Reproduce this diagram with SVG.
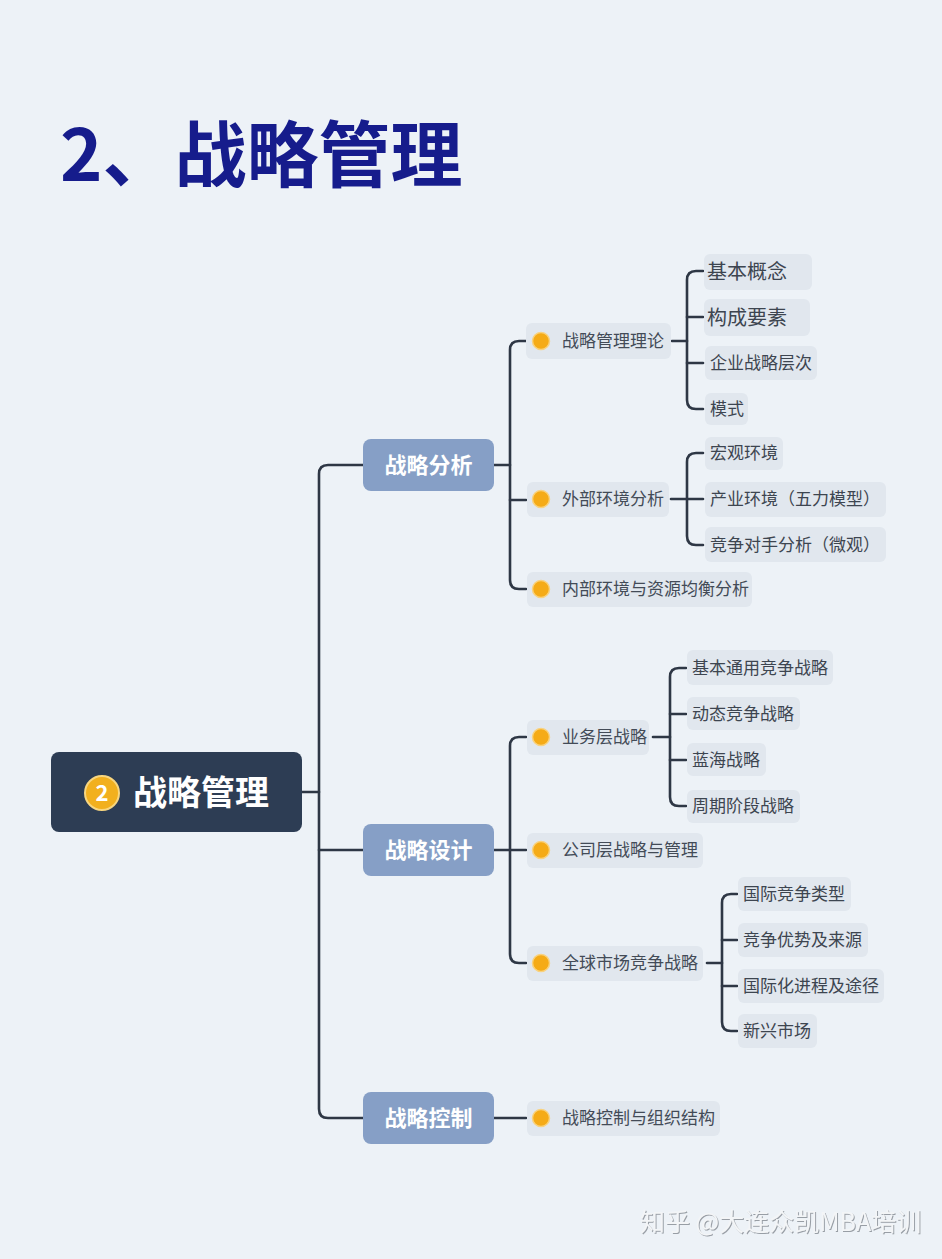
<svg xmlns="http://www.w3.org/2000/svg" width="942" height="1259" viewBox="0 0 942 1259">
<style>
.cjk{font-family:"Noto Sans CJK SC","Noto Sans",sans-serif}
.title{font-size:72px;font-weight:700;fill:#161c8c}
.root{fill:#2d3d54}
.roottxt{font-size:34px;font-weight:700;fill:#ffffff}
.l1{fill:#869fc6}
.l1txt{font-size:22px;font-weight:700;fill:#ffffff}
.pill{fill:#e1e7ee}
.dot{fill:#f5ab17;stroke:#f9d27e;stroke-width:1.5}
.l2txt{font-size:17px;fill:#434b57}
.l3txt{font-size:17px;fill:#3d4550}
.l3big{font-size:20px;fill:#3d4550}
.conn{fill:none;stroke:#2e3745;stroke-width:2.6;stroke-linecap:round;stroke-linejoin:round}
.wm{font-size:25px;fill:#f3f5f7}
</style>
<defs>
<filter id="emb" x="-5%" y="-20%" width="110%" height="140%">
<feDropShadow dx="1" dy="1" stdDeviation="0.6" flood-color="#8f959c" flood-opacity="0.9"/>
</filter>
</defs>
<rect x="0" y="0" width="942" height="1259" fill="#edf2f7"/>
<text class="cjk title" x="60" y="181">2、战略管理</text>

<g id="connectors">
<path class="conn" d="M302,792 H319"/>
<path class="conn" d="M363,465 H328 Q319,465 319,474 V1109 Q319,1118 328,1118 H363"/>
<path class="conn" d="M319,850 H363"/>
<!-- 战略分析 -->
<path class="conn" d="M494,465 H510"/>
<path class="conn" d="M526,341 H519 Q510,341 510,350 V580 Q510,589 519,589 H526"/>
<path class="conn" d="M510,500 H526"/>
<path class="conn" d="M672,341 H687"/>
<path class="conn" d="M703,271 H696 Q687,271 687,280 V400 Q687,409 696,409 H703"/>
<path class="conn" d="M687,317 H703"/>
<path class="conn" d="M687,363 H703"/>
<path class="conn" d="M671,499 H703"/>
<path class="conn" d="M703,453 H696 Q687,453 687,462 V536 Q687,545 696,545 H703"/>
<!-- 战略设计 -->
<path class="conn" d="M494,850 H526"/>
<path class="conn" d="M526,737 H519 Q510,737 510,746 V954 Q510,963 519,963 H526"/>
<path class="conn" d="M653,737 H670"/>
<path class="conn" d="M686,668 H679 Q670,668 670,677 V797 Q670,806 679,806 H686"/>
<path class="conn" d="M670,714 H686"/>
<path class="conn" d="M670,760 H686"/>
<path class="conn" d="M707,963 H722"/>
<path class="conn" d="M737,894 H731 Q722,894 722,903 V1022 Q722,1031 731,1031 H737"/>
<path class="conn" d="M722,940 H737"/>
<path class="conn" d="M722,986 H737"/>
<!-- 战略控制 -->
<path class="conn" d="M494,1118 H526"/>
</g>

<g id="root">
<rect class="root" x="51" y="752" width="251" height="80" rx="8"/>
<circle cx="102" cy="793" r="17" fill="#f2b01e" stroke="#f8d67f" stroke-width="2"/>
<text class="cjk" x="102" y="801" font-size="22" font-weight="700" fill="#ffffff" text-anchor="middle">2</text>
<text class="cjk roottxt" x="133" y="805">战略管理</text>
</g>

<g id="n-fenxi">
<rect class="l1" x="363" y="439" width="131" height="52" rx="8"/>
<text class="cjk l1txt" x="428.5" y="473" text-anchor="middle">战略分析</text>
</g>
<g id="n-sheji">
<rect class="l1" x="363" y="824" width="131" height="52" rx="8"/>
<text class="cjk l1txt" x="428.5" y="858" text-anchor="middle">战略设计</text>
</g>
<g id="n-kongzhi">
<rect class="l1" x="363" y="1092" width="131" height="52" rx="8"/>
<text class="cjk l1txt" x="428.5" y="1126" text-anchor="middle">战略控制</text>
</g>

<!-- level 2 -->
<g id="n-lilun">
<rect class="pill" x="526" y="323" width="145" height="36" rx="6"/>
<circle class="dot" cx="541" cy="341" r="8.5"/>
<text class="cjk l2txt" x="562" y="347">战略管理理论</text>
</g>
<g id="n-waibu">
<rect class="pill" x="527" y="482" width="142" height="35" rx="6"/>
<circle class="dot" cx="541" cy="499" r="8.5"/>
<text class="cjk l2txt" x="562" y="505">外部环境分析</text>
</g>
<g id="n-neibu">
<rect class="pill" x="527" y="572" width="225" height="35" rx="6"/>
<circle class="dot" cx="541" cy="589" r="8.5"/>
<text class="cjk l2txt" x="562" y="595">内部环境与资源均衡分析</text>
</g>
<g id="n-yewu">
<rect class="pill" x="527" y="720" width="122" height="35" rx="6"/>
<circle class="dot" cx="541" cy="737" r="8.5"/>
<text class="cjk l2txt" x="562" y="743">业务层战略</text>
</g>
<g id="n-gongsi">
<rect class="pill" x="527" y="833" width="176" height="35" rx="6"/>
<circle class="dot" cx="541" cy="850" r="8.5"/>
<text class="cjk l2txt" x="562" y="856">公司层战略与管理</text>
</g>
<g id="n-quanqiu">
<rect class="pill" x="527" y="946" width="176" height="35" rx="6"/>
<circle class="dot" cx="541" cy="963" r="8.5"/>
<text class="cjk l2txt" x="562" y="969">全球市场竞争战略</text>
</g>
<g id="n-kzjg">
<rect class="pill" x="527" y="1101" width="193" height="35" rx="6"/>
<circle class="dot" cx="541" cy="1118" r="8.5"/>
<text class="cjk l2txt" x="562" y="1124">战略控制与组织结构</text>
</g>

<!-- level 3: 战略管理理论 -->
<g id="n-gainian">
<rect class="pill" x="704" y="254" width="108" height="36" rx="6"/>
<text class="cjk l3big" x="707" y="279">基本概念</text>
</g>
<g id="n-yaosu">
<rect class="pill" x="704" y="299" width="106" height="37" rx="6"/>
<text class="cjk l3big" x="707" y="325">构成要素</text>
</g>
<g id="n-cengci">
<rect class="pill" x="705" y="346" width="112" height="34" rx="6"/>
<text class="cjk l3txt" x="710" y="369">企业战略层次</text>
</g>
<g id="n-moshi">
<rect class="pill" x="705" y="393" width="43" height="32" rx="6"/>
<text class="cjk l3txt" x="710" y="415">模式</text>
</g>
<!-- 外部环境分析 -->
<g id="n-hongguan">
<rect class="pill" x="705" y="437" width="78" height="33" rx="6"/>
<text class="cjk l3txt" x="710" y="459">宏观环境</text>
</g>
<g id="n-chanye">
<rect class="pill" x="705" y="482" width="181" height="35" rx="6"/>
<text class="cjk l3txt" x="710" y="505">产业环境（五力模型）</text>
</g>
<g id="n-duishou">
<rect class="pill" x="705" y="527" width="181" height="35" rx="6"/>
<text class="cjk l3txt" x="710" y="551">竞争对手分析（微观）</text>
</g>
<!-- 业务层战略 -->
<g id="n-tongyong">
<rect class="pill" x="687" y="650" width="146" height="35" rx="6"/>
<text class="cjk l3txt" x="692" y="674">基本通用竞争战略</text>
</g>
<g id="n-dongtai">
<rect class="pill" x="687" y="697" width="113" height="33" rx="6"/>
<text class="cjk l3txt" x="692" y="720">动态竞争战略</text>
</g>
<g id="n-lanhai">
<rect class="pill" x="687" y="743" width="79" height="33" rx="6"/>
<text class="cjk l3txt" x="692" y="766">蓝海战略</text>
</g>
<g id="n-zhouqi">
<rect class="pill" x="687" y="790" width="113" height="33" rx="6"/>
<text class="cjk l3txt" x="692" y="812">周期阶段战略</text>
</g>
<!-- 全球市场竞争战略 -->
<g id="n-leixing">
<rect class="pill" x="738" y="877" width="113" height="34" rx="6"/>
<text class="cjk l3txt" x="743" y="900">国际竞争类型</text>
</g>
<g id="n-youshi">
<rect class="pill" x="738" y="923" width="130" height="34" rx="6"/>
<text class="cjk l3txt" x="743" y="946">竞争优势及来源</text>
</g>
<g id="n-tujing">
<rect class="pill" x="738" y="969" width="146" height="34" rx="6"/>
<text class="cjk l3txt" x="743" y="992">国际化进程及途径</text>
</g>
<g id="n-xinxing">
<rect class="pill" x="738" y="1014" width="79" height="34" rx="6"/>
<text class="cjk l3txt" x="743" y="1037">新兴市场</text>
</g>

<text class="cjk wm" x="640" y="1231" filter="url(#emb)">知乎 @大连众凯MBA培训</text>
</svg>
